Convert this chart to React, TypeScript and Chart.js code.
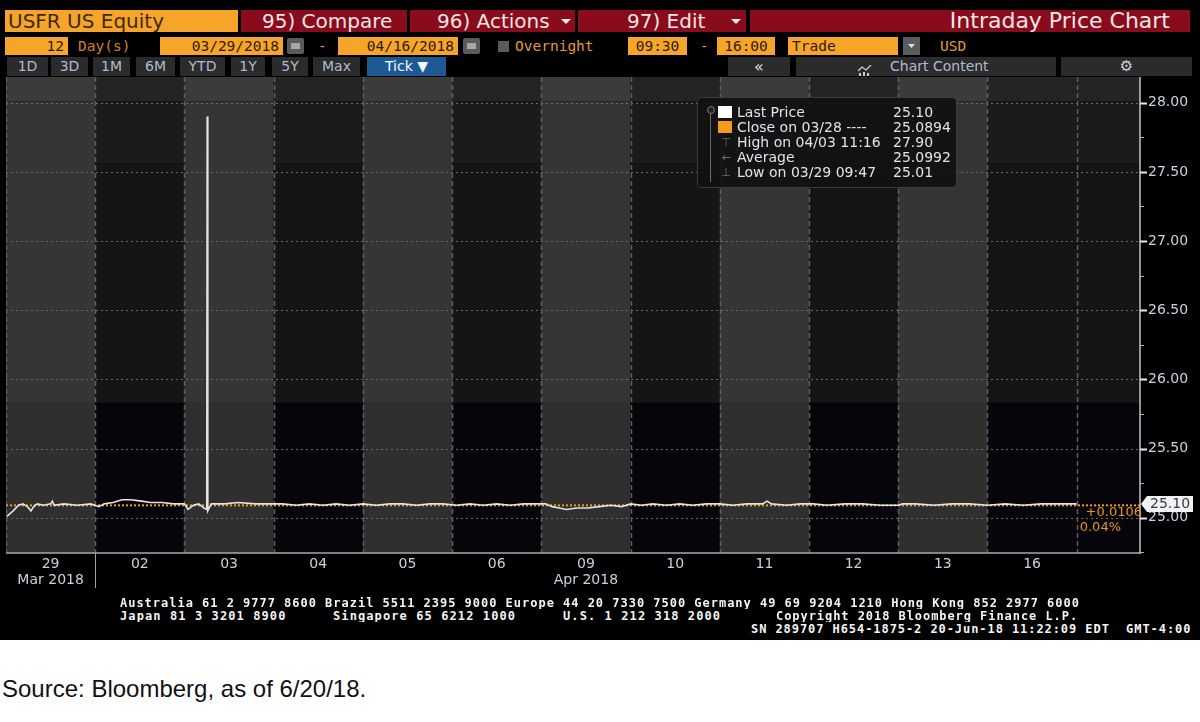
import React, { useEffect, useRef } from "react";
import { Chart, registerables } from "chart.js";

Chart.register(...registerables);

// ---------------- data ----------------
const dayLabels = ["29", "02", "03", "04", "05", "06", "09", "10", "11", "12", "13", "16"];
const monthLabels = ["Mar 2018", "", "", "", "", "", "Apr 2018", "", "", "", "", ""];
const yTickValues = [24.75, 25.0, 25.25, 25.5, 25.75, 26.0, 26.25, 26.5, 26.75, 27.0, 27.25, 27.5, 27.75, 28.0];

// trading position (fractional trading day) and trade price
const tickDay = [
  0.01, 0.08, 0.14, 0.19, 0.24, 0.28, 0.31, 0.35, 0.42, 0.5, 0.52, 0.54, 0.65, 0.8, 0.95,
  1.04, 1.1, 1.2, 1.3, 1.4, 1.52, 1.62, 1.75, 1.88,
  2.0, 2.04, 2.1, 2.16, 2.22, 2.25, 2.255, 2.262, 2.3, 2.45, 2.6, 2.8, 2.95,
  3.1, 3.25, 3.4, 3.55, 3.7, 3.85,
  4.0, 4.15, 4.3, 4.45, 4.6, 4.75, 4.9,
  5.05, 5.2, 5.35, 5.5, 5.65, 5.8, 5.95,
  6.05, 6.12, 6.2, 6.28, 6.4, 6.52, 6.65, 6.78, 6.9,
  7.0, 7.12, 7.25, 7.4, 7.55, 7.7, 7.85,
  8.0, 8.15, 8.3, 8.48, 8.53, 8.58, 8.75, 8.9,
  9.05, 9.2, 9.4, 9.6, 9.8,
  10.0, 10.05, 10.2, 10.4, 10.6, 10.8,
  11.0, 11.2, 11.4, 11.6, 11.8, 12.0,
];
const tickPrice = [
  25.01, 25.05, 25.09, 25.1, 25.08, 25.05, 25.08, 25.1, 25.09, 25.1, 25.12, 25.09, 25.1, 25.09, 25.1,
  25.08, 25.1, 25.11, 25.13, 25.13, 25.12, 25.11, 25.11, 25.1,
  25.1, 25.06, 25.09, 25.1, 25.07, 25.06, 27.9, 25.05, 25.1, 25.1, 25.11, 25.1, 25.1,
  25.1, 25.09, 25.1, 25.09, 25.1, 25.09,
  25.1, 25.09, 25.1, 25.1, 25.09, 25.1, 25.1,
  25.09, 25.1, 25.09, 25.1, 25.09, 25.1, 25.1,
  25.1, 25.08, 25.07, 25.06, 25.07, 25.07, 25.08, 25.09, 25.08,
  25.1, 25.09, 25.1, 25.09, 25.1, 25.09, 25.1,
  25.1, 25.09, 25.1, 25.1, 25.12, 25.1, 25.09, 25.1,
  25.1, 25.09, 25.1, 25.1, 25.09,
  25.09, 25.1, 25.1, 25.09, 25.1, 25.1,
  25.09, 25.1, 25.09, 25.1, 25.1, 25.1,
];
const closePrice = 25.0894;
const lastPrice = 25.1;
const lastPriceLabel = "25.10";
const netChange = "+0.0106";
const pctChange = "0.04%";
const legendNames = ["Last Price", "Close on 03/28 ----", "High on 04/03 11:16", "Average", "Low on 03/29 09:47"];
const legendValues = ["25.10", "25.0894", "27.90", "25.0992", "25.01"];
const yMin = 24.745;
const yMax = 28.186;
const xMax = 12.71;

// ---------------- styles ----------------
const SANS = '"DejaVu Sans", sans-serif';
const MONO = '"DejaVu Sans Mono", monospace';
const ORANGE = "#f7a42b";
const RED = "#8a0c1c";
const AXIS_TEXT = "#c8d2e0";

const DARK_BANDS = [
  { top: null, bottom: 28.01, color: "#242424" },
  { top: 28.01, bottom: 27.56, color: "#1b1b1b" },
  { top: 27.56, bottom: 25.83, color: "#151515" },
  { top: 25.83, bottom: null, color: "#05050b" },
];
const LIGHT_BANDS = [
  { top: null, bottom: 28.01, color: "#3b3b3b" },
  { top: 28.01, bottom: 25.83, color: "#353535" },
  { top: 25.83, bottom: null, color: "#2f2f2f" },
];

const isMajor = (v: number) => Math.abs(v * 2 - Math.round(v * 2)) < 1e-6;

const bbgPlugin = {
  id: "bbgPlugin",
  beforeDatasetsDraw(chart: any) {
    const { ctx, chartArea: ca, scales } = chart;
    const x = scales.x;
    const y = scales.y;
    ctx.save();
    ctx.beginPath();
    ctx.rect(ca.left, ca.top, ca.right - ca.left, ca.bottom - ca.top);
    ctx.clip();
    const nCols = Math.ceil(x.max);
    for (let i = 0; i < nCols; i++) {
      const x0 = x.getPixelForValue(i);
      const x1 = x.getPixelForValue(Math.min(i + 1, x.max));
      const light = i < dayLabels.length && i % 2 === 0;
      const bands = light ? LIGHT_BANDS : DARK_BANDS;
      bands.forEach((b) => {
        const y0 = b.top === null ? ca.top : y.getPixelForValue(b.top);
        const y1 = b.bottom === null ? ca.bottom : y.getPixelForValue(b.bottom);
        ctx.fillStyle = b.color;
        ctx.fillRect(x0, y0, x1 - x0, y1 - y0);
      });
    }
    // horizontal dotted grid
    ctx.strokeStyle = "#6a6a6a";
    ctx.lineWidth = 1;
    ctx.setLineDash([2, 3]);
    y.ticks.forEach((t: any) => {
      if (!isMajor(t.value)) return;
      const py = Math.round(y.getPixelForValue(t.value)) + 0.5;
      ctx.beginPath();
      ctx.moveTo(ca.left, py);
      ctx.lineTo(ca.right, py);
      ctx.stroke();
    });
    // vertical dashed day separators
    ctx.strokeStyle = "#5e5e5e";
    ctx.lineWidth = 1.5;
    ctx.setLineDash([5, 3]);
    for (let i = 0; i <= dayLabels.length; i++) {
      const px = Math.round(x.getPixelForValue(i)) + 0.5;
      ctx.beginPath();
      ctx.moveTo(px, ca.top);
      ctx.lineTo(px, ca.bottom);
      ctx.stroke();
    }
    ctx.restore();
  },
  afterDatasetsDraw(chart: any) {
    const { ctx, chartArea: ca, scales } = chart;
    const x = scales.x;
    const y = scales.y;
    ctx.save();
    // axis borders
    ctx.strokeStyle = "#a8a8a8";
    ctx.lineWidth = 1.5;
    ctx.beginPath();
    ctx.moveTo(ca.left, ca.bottom);
    ctx.lineTo(ca.right, ca.bottom);
    ctx.stroke();
    ctx.strokeStyle = "#c4c4c4";
    ctx.beginPath();
    ctx.moveTo(ca.right, ca.top);
    ctx.lineTo(ca.right, ca.bottom + 1);
    ctx.stroke();
    // y tick marks
    y.ticks.forEach((t: any) => {
      const py = Math.round(y.getPixelForValue(t.value)) + 0.5;
      const major = isMajor(t.value);
      ctx.strokeStyle = major ? "#e8e8e8" : "#b0b0b0";
      ctx.lineWidth = major ? 2 : 1;
      ctx.beginPath();
      ctx.moveTo(ca.right, py);
      ctx.lineTo(ca.right + (major ? 7 : 4), py);
      ctx.stroke();
    });
    // month separator
    const mx = Math.round(x.getPixelForValue(1)) + 0.5;
    ctx.strokeStyle = "#a0a0a0";
    ctx.lineWidth = 1;
    ctx.beginPath();
    ctx.moveTo(mx, ca.bottom);
    ctx.lineTo(mx, ca.bottom + 35);
    ctx.stroke();
    // change text
    const py = y.getPixelForValue(lastPrice);
    ctx.fillStyle = "#e8961f";
    ctx.font = `13px ${SANS}`;
    ctx.textBaseline = "middle";
    ctx.textAlign = "right";
    ctx.fillText(netChange, ca.right + 2, py + 9);
    ctx.fillText(pctChange, ca.right - 19, py + 24);
    // last price tag
    ctx.fillStyle = "#f2f2f2";
    ctx.beginPath();
    ctx.moveTo(ca.right + 1, py);
    ctx.lineTo(ca.right + 7, py - 8);
    ctx.lineTo(ca.right + 53, py - 8);
    ctx.lineTo(ca.right + 53, py + 8);
    ctx.lineTo(ca.right + 7, py + 8);
    ctx.closePath();
    ctx.fill();
    ctx.fillStyle = "#2d3a52";
    ctx.textAlign = "left";
    ctx.font = `14px ${SANS}`;
    ctx.fillText(lastPriceLabel, ca.right + 10, py + 0.5);
    ctx.restore();
  },
};

function Abs(props: any) {
  const { l, t, w, h, bg, style, children } = props;
  return (
    <div
      style={{
        position: "absolute",
        left: l,
        top: t,
        width: w,
        height: h,
        background: bg,
        boxSizing: "border-box",
        whiteSpace: "pre",
        overflow: "hidden",
        ...style,
      }}
    >
      {children}
    </div>
  );
}

function DropArrow({ l, t }: { l: number; t: number }) {
  return (
    <div
      style={{
        position: "absolute",
        left: l,
        top: t,
        width: 10,
        height: 5,
        background: "#f0f0f0",
        clipPath: "polygon(0 0, 100% 0, 50% 100%)",
      }}
    />
  );
}

function CalIcon({ l }: { l: number }) {
  return (
    <Abs l={l} t={38} w={17} h={16} bg="#5b5b5b" style={{ borderRadius: 2 }}>
      <div style={{ position: "absolute", left: 4, top: 5, width: 9, height: 6, background: "#a8a8a8" }} />
    </Abs>
  );
}

export default function App() {
  const canvasRef = useRef<HTMLCanvasElement | null>(null);

  useEffect(() => {
    const canvas = canvasRef.current;
    if (!canvas) return;
    const chart = new Chart(canvas, {
      type: "line",
      data: {
        datasets: [
          {
            label: "Last Price",
            data: tickDay.map((d, i) => ({ x: d, y: tickPrice[i] })),
            borderColor: "#e4e4e4",
            borderWidth: 1.6,
            pointRadius: 0,
            tension: 0,
          },
          {
            label: "Close on 03/28",
            data: [
              { x: 0, y: closePrice },
              { x: xMax, y: closePrice },
            ],
            borderColor: "#f59a1b",
            borderWidth: 2,
            borderDash: [2, 2],
            pointRadius: 0,
          },
        ],
      },
      options: {
        animation: false,
        responsive: false,
        maintainAspectRatio: false,
        layout: { padding: { left: 6, top: 0, right: 0, bottom: 0 } },
        plugins: { legend: { display: false }, tooltip: { enabled: false } },
        scales: {
          x: {
            type: "linear",
            position: "bottom",
            min: 0,
            max: xMax,
            afterBuildTicks: (s: any) => {
              s.ticks = dayLabels.map((_, i) => ({ value: i + 0.5 }));
            },
            afterFit: (s: any) => {
              s.height = 47;
              s.paddingLeft = 0;
              s.paddingRight = 0;
              s.paddingTop = 0;
              s.paddingBottom = 0;
            },
            grid: { display: false, drawTicks: false },
            border: { display: false },
            ticks: {
              autoSkip: false,
              maxRotation: 0,
              padding: 4,
              color: AXIS_TEXT,
              font: { family: SANS, size: 14, lineHeight: 1.1 },
              callback: (_v: any, i: number) =>
                monthLabels[i] ? [dayLabels[i], monthLabels[i]] : dayLabels[i],
            },
          },
          y: {
            type: "linear",
            position: "right",
            min: yMin,
            max: yMax,
            afterBuildTicks: (s: any) => {
              s.ticks = yTickValues.map((v) => ({ value: v }));
            },
            afterFit: (s: any) => {
              s.width = 60;
              s.paddingLeft = 0;
              s.paddingRight = 0;
              s.paddingTop = 0;
              s.paddingBottom = 0;
            },
            grid: { display: false, drawTicks: false },
            border: { display: false },
            ticks: {
              padding: 8,
              color: AXIS_TEXT,
              font: { family: SANS, size: 14 },
              callback: (v: any) => (isMajor(Number(v)) ? Number(v).toFixed(2) : ""),
            },
          },
        },
      } as any,
      plugins: [bbgPlugin],
    });
    return () => chart.destroy();
  }, []);

  const row1Text = { color: "#f2e6e6", fontFamily: SANS, fontSize: 20, lineHeight: "22px" };
  const row2Mono = { fontFamily: MONO, fontSize: 14.5, lineHeight: "18px", color: "#2b1d05" };
  const row3Btn = {
    fontFamily: SANS,
    fontSize: 14,
    lineHeight: "19px",
    color: "#aebcd0",
    textAlign: "center" as const,
  };
  const footer = { fontFamily: MONO, fontWeight: "bold" as const, fontSize: 12, lineHeight: "12px", color: "#f4f4f4" };
  const legendText = { fontFamily: SANS, fontSize: 14, lineHeight: "15px", color: "#dfe4ec" };

  const buttons: [number, number, string][] = [
    [7, 41, "1D"],
    [51, 37, "3D"],
    [93, 37, "1M"],
    [136, 39, "6M"],
    [180, 45, "YTD"],
    [231, 34, "1Y"],
    [272, 36, "5Y"],
    [313, 47, "Max"],
  ];

  return (
    <div
      style={{
        position: "absolute",
        left: 0,
        top: 0,
        width: 1200,
        height: 722,
        background: "#ffffff",
        overflow: "hidden",
      }}
    >
      <Abs l={0} t={0} w={1200} h={640} bg="#000000" />

      {/* row 1 */}
      <Abs l={5} t={10} w={233} h={22} bg={ORANGE} style={{ ...row1Text, color: "#3d2a08", paddingLeft: 3 }}>
        USFR US Equity
      </Abs>
      <Abs l={241} t={10} w={166} h={22} bg={RED} style={{ ...row1Text, paddingLeft: 21 }}>
        95) Compare
      </Abs>
      <Abs l={410} t={10} w={165} h={22} bg={RED} style={{ ...row1Text, paddingLeft: 27 }}>
        96) Actions
      </Abs>
      <DropArrow l={561} t={19} />
      <Abs l={578} t={10} w={168} h={22} bg={RED} style={{ ...row1Text, paddingLeft: 49 }}>
        97) Edit
      </Abs>
      <DropArrow l={731} t={19} />
      <Abs
        l={750}
        t={10}
        w={440}
        h={22}
        bg={RED}
        style={{ ...row1Text, fontSize: 22, textAlign: "right", paddingRight: 20 }}
      >
        Intraday Price Chart
      </Abs>

      {/* row 2 */}
      <Abs l={5} t={37} w={63} h={18} bg={ORANGE} style={{ ...row2Mono, textAlign: "right", paddingRight: 4 }}>
        12
      </Abs>
      <Abs l={78} t={37} w={80} h={18} style={{ ...row2Mono, color: "#d2802c" }}>
        Day(s)
      </Abs>
      <Abs l={160} t={37} w={123} h={18} bg={ORANGE} style={{ ...row2Mono, textAlign: "right", paddingRight: 4 }}>
        03/29/2018
      </Abs>
      <CalIcon l={287} />
      <Abs l={318} t={37} w={12} h={18} style={{ ...row2Mono, color: "#e39b2d" }}>
        -
      </Abs>
      <Abs l={338} t={37} w={120} h={18} bg={ORANGE} style={{ ...row2Mono, textAlign: "right", paddingRight: 4 }}>
        04/16/2018
      </Abs>
      <CalIcon l={463} />
      <Abs l={498} t={41} w={11} h={11} bg="#5b5b5b" />
      <Abs l={515} t={37} w={90} h={18} style={{ ...row2Mono, color: "#e39b2d" }}>
        Overnight
      </Abs>
      <Abs l={628} t={37} w={59} h={18} bg={ORANGE} style={{ ...row2Mono, textAlign: "center" }}>
        09:30
      </Abs>
      <Abs l={700} t={37} w={12} h={18} style={{ ...row2Mono, color: "#e39b2d" }}>
        -
      </Abs>
      <Abs l={717} t={37} w={58} h={18} bg={ORANGE} style={{ ...row2Mono, textAlign: "center" }}>
        16:00
      </Abs>
      <Abs l={788} t={37} w={110} h={18} bg={ORANGE} style={{ ...row2Mono, paddingLeft: 4 }}>
        Trade
      </Abs>
      <Abs l={903} t={37} w={17} h={18} bg="#5b5b5b" />
      <div
        style={{
          position: "absolute",
          left: 908,
          top: 44,
          width: 7,
          height: 4,
          background: "#e0e0e0",
          clipPath: "polygon(0 0, 100% 0, 50% 100%)",
        }}
      />
      <Abs l={940} t={37} w={40} h={18} style={{ ...row2Mono, color: "#e39b2d" }}>
        USD
      </Abs>

      {/* row 3 */}
      {buttons.map(([l, w, t]) => (
        <Abs key={t} l={l} t={57} w={w} h={19} bg="#2b2b2b" style={row3Btn}>
          {t}
        </Abs>
      ))}
      <Abs l={367} t={57} w={79} h={19} bg="#1d5a94" style={{ ...row3Btn, color: "#f4f8ff" }}>
        Tick ▼
      </Abs>
      <Abs l={728} t={57} w={62} h={19} bg="#2b2b2b" style={{ ...row3Btn, color: "#d8dde6", fontSize: 16 }}>
        «
      </Abs>
      <Abs l={796} t={57} w={260} h={19} bg="#2b2b2b" style={{ ...row3Btn, textAlign: "left", paddingLeft: 94 }}>
        Chart Content
      </Abs>
      <div style={{ position: "absolute", left: 858, top: 62, width: 14, height: 11 }}>
        <svg width="14" height="11" viewBox="0 0 14 11">
          <polyline points="0,6 4,2 8,5 13,0" fill="none" stroke="#c8ccd4" strokeWidth="1.3" />
          <rect x="1" y="8" width="2" height="3" fill="#c8ccd4" />
          <rect x="5" y="7" width="2" height="4" fill="#c8ccd4" />
          <rect x="9" y="8" width="2" height="3" fill="#c8ccd4" />
        </svg>
      </div>
      <Abs l={1061} t={57} w={131} h={19} bg="#2b2b2b" style={{ ...row3Btn, color: "#d0d4da", fontSize: 15 }}>
        ⚙
      </Abs>

      {/* chart */}
      <canvas
        ref={canvasRef}
        width={1200}
        height={523}
        style={{ position: "absolute", left: 0, top: 77, width: 1200, height: 523 }}
      />

      {/* legend box */}
      <Abs
        l={697}
        t={97}
        w={260}
        h={91}
        bg="rgba(17,17,17,0.93)"
        style={{ border: "1px solid #3c3c3c", borderRadius: 5 }}
      />
      <Abs l={710} t={110} w={1} h={72} bg="#6a6a6a" />
      <div
        style={{
          position: "absolute",
          left: 707,
          top: 106,
          width: 6,
          height: 6,
          borderRadius: 4,
          border: "1px solid #777",
          background: "#222",
        }}
      />
      <Abs l={718} t={106} w={14} h={12} bg="#ffffff" />
      <Abs l={718} t={121} w={14} h={12} bg="#f59a1b" />
      {["⊤", "←", "⊥"].map((c, i) => (
        <Abs
          key={c}
          l={719}
          t={135 + i * 15}
          w={14}
          h={15}
          style={{ fontFamily: SANS, fontSize: 11, lineHeight: "15px", color: "#6f6f6f", textAlign: "center" }}
        >
          {c}
        </Abs>
      ))}
      {legendNames.map((n, i) => (
        <Abs key={n} l={737} t={105 + i * 15} w={155} h={15} style={legendText}>
          {n}
        </Abs>
      ))}
      {legendValues.map((v, i) => (
        <Abs key={v + i} l={893} t={105 + i * 15} w={62} h={15} style={legendText}>
          {v}
        </Abs>
      ))}

      {/* footer */}
      <Abs l={120} t={597} w={1000} h={12} style={{ ...footer, letterSpacing: "0.98px" }}>
        Australia 61 2 9777 8600 Brazil 5511 2395 9000 Europe 44 20 7330 7500 Germany 49 69 9204 1210 Hong Kong 852 2977 6000
      </Abs>
      <Abs l={120} t={610} w={210} h={12} style={{ ...footer, letterSpacing: "1.1px" }}>
        Japan 81 3 3201 8900
      </Abs>
      <Abs l={333} t={610} w={220} h={12} style={{ ...footer, letterSpacing: "1.1px" }}>
        Singapore 65 6212 1000
      </Abs>
      <Abs l={563} t={610} w={210} h={12} style={{ ...footer, letterSpacing: "1.1px" }}>
        U.S. 1 212 318 2000
      </Abs>
      <Abs l={776} t={610} w={330} h={12} style={{ ...footer, letterSpacing: "0.94px" }}>
        Copyright 2018 Bloomberg Finance L.P.
      </Abs>
      <Abs l={751} t={623} w={449} h={12} style={{ ...footer, letterSpacing: "0.93px" }}>
        SN 289707 H654-1875-2 20-Jun-18 11:22:09 EDT  GMT-4:00
      </Abs>

      {/* source */}
      <Abs
        l={2}
        t={675}
        w={600}
        h={28}
        style={{ fontFamily: '"Liberation Sans", Arial, sans-serif', fontSize: 24, lineHeight: "28px", color: "#111" }}
      >
        Source: Bloomberg, as of 6/20/18.
      </Abs>
    </div>
  );
}
